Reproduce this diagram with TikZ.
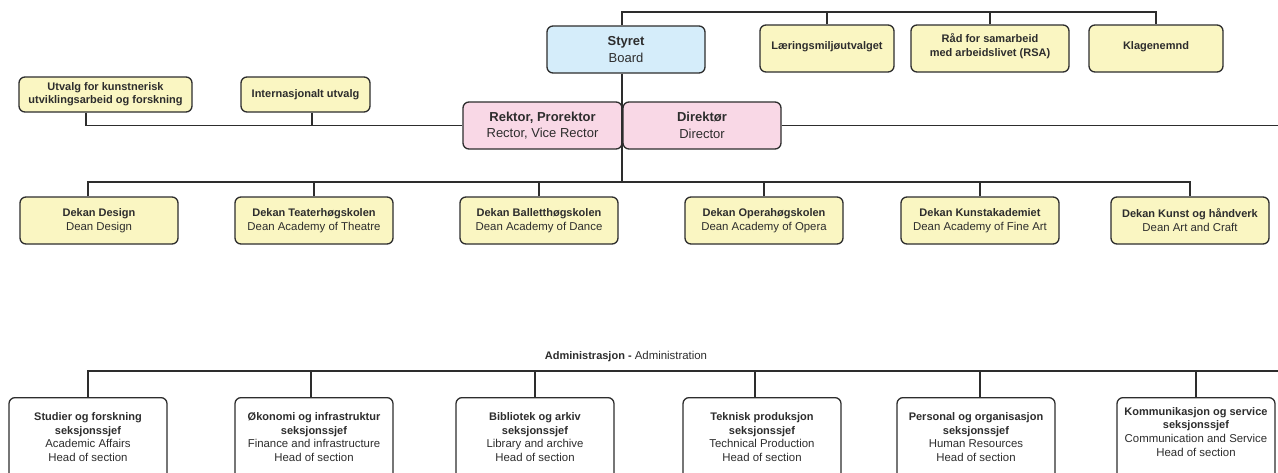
\documentclass[tikz,border=0pt]{standalone}
\usepackage{fontspec}
\setmainfont{Liberation Sans}
\definecolor{boxyellow}{RGB}{250,246,194}
\definecolor{boxblue}{RGB}{213,237,250}
\definecolor{boxpink}{RGB}{249,216,230}
\definecolor{ink}{RGB}{45,45,45}
\newcommand{\hb}[1]{{\fontsize{11}{14}\selectfont\bfseries #1}}
\newcommand{\lowstrut}[1]{\rule[-#1]{0pt}{#1}}
\tikzset{
  box/.style={draw=ink, line width=1.3pt, rounded corners=6pt, align=center, text=ink, inner sep=1pt},
  smallbox/.style={box, fill=boxyellow, minimum height=47pt, font=\fontsize{11}{14}\selectfont\bfseries},
  combox/.style={box, fill=boxyellow, minimum height=35pt, font=\fontsize{11}{13}\selectfont\bfseries},
  leadbox/.style={box, minimum width=158pt, minimum height=47pt, font=\fontsize{13}{16.5}\selectfont},
  deanbox/.style={box, fill=boxyellow, minimum width=158pt, minimum height=47pt, font=\fontsize{11.4}{14}\selectfont},
  secbox/.style={box, fill=white, minimum width=158pt, minimum height=86pt, anchor=north, font=\fontsize{11.4}{13.7}\selectfont},
  adminlabel/.style={text=ink, inner sep=0pt, font=\fontsize{11.4}{14}\selectfont},
  bus/.style={draw=ink, line width=1.4pt}
}
\begin{document}
\begin{tikzpicture}[x=1pt,y=-1pt]
\useasboundingbox (0,0) rectangle (1278,472);
\clip (0,0) rectangle (1278,472);
\fill[white] (0,0) rectangle (1278,472);

% coordinates for buses
\coordinate (topbus) at (622,12);
\coordinate (spine) at (622,0);
\coordinate (deanbus) at (622,182);
\coordinate (rightedge) at (1278,125.5);
\coordinate (adminend) at (1278,371);

\node[leadbox, fill=boxblue, minimum width=158pt] (styret) at (626,49.5) {{\bfseries Styret}\\Board};
\node[leadbox, fill=boxpink, minimum width=159pt] (rektor) at (542.5,125.5) {{\bfseries Rektor, Prorektor}\\Rector, Vice Rector};
\node[leadbox, fill=boxpink] (direktor) at (702,125.5) {{\bfseries Direktør}\\Director};

\draw[bus] (styret.south -| spine) -- (deanbus);

\node[smallbox, minimum width=134pt] (laer) at (827,48.5) {Læringsmiljøutvalget\lowstrut{6pt}};
\node[smallbox, minimum width=158pt] (rad) at (990,48.5) {Råd for samarbeid\\med arbeidslivet (RSA)\lowstrut{7pt}};
\node[smallbox, minimum width=134pt] (klage) at (1156,48.5) {Klagenemnd\lowstrut{6pt}};

\node[combox, minimum width=173pt] (utvalg) at (105.5,94.5) {Utvalg for kunstnerisk\\utviklingsarbeid og forskning};
\node[combox, minimum width=129pt] (intl) at (305.5,94.5) {Internasjonalt utvalg};

\node[deanbox] (design) at (99,220.5) {\hb{Dekan Design}\\Dean Design};
\node[deanbox] (theatre) at (314,220.5) {\hb{Dekan Teaterhøgskolen}\\Dean Academy of Theatre};
\node[deanbox] (dance) at (539,220.5) {\hb{Dekan Balletthøgskolen}\\Dean Academy of Dance};
\node[deanbox] (opera) at (764,220.5) {\hb{Dekan Operahøgskolen}\\Dean Academy of Opera};
\node[deanbox] (fineart) at (980,220.5) {\hb{Dekan Kunstakademiet}\\Dean Academy of Fine Art};
\node[deanbox] (craft) at (1190,220.5) {\hb{Dekan Kunst og håndverk}\\Dean Art and Craft};

\node[adminlabel] (admlabel) at (626,357) {\textbf{\fontsize{11}{14}\selectfont Administrasjon -} Administration};

\node[secbox] (sec1) at (88,397) {\hb{Studier og forskning}\\\hb{seksjonssjef}\\Academic Affairs\\Head of section\lowstrut{7.4pt}};
\node[secbox] (sec2) at (314,397) {\hb{Økonomi og infrastruktur}\\\hb{seksjonssjef}\\Finance and infrastructure\\Head of section\lowstrut{7.4pt}};
\node[secbox] (sec3) at (535,397) {\hb{Bibliotek og arkiv}\\\hb{seksjonssjef}\\Library and archive\\Head of section\lowstrut{7.4pt}};
\node[secbox] (sec4) at (762,397) {\hb{Teknisk produksjon}\\\hb{seksjonssjef}\\Technical Production\\Head of section\lowstrut{7.4pt}};
\node[secbox] (sec5) at (976,397) {\hb{Personal og organisasjon}\\\hb{seksjonssjef}\\Human Resources\\Head of section\lowstrut{7.4pt}};
\node[secbox] (sec6) at (1196,397) {\hb{Kommunikasjon og service}\\\hb{seksjonssjef}\\Communication and Service\\Head of section\lowstrut{18pt}};

% top bus
\draw[bus] (styret.north -| topbus) -- (topbus) -| (klage.north);
\draw[bus] (laer.north) -- (laer.north |- topbus);
\draw[bus] (rad.north) -- (rad.north |- topbus);

% committee bus
\draw[bus] ([xshift=-19.5pt]utvalg.south) |- (rektor.west);
\draw[bus] ([xshift=6.5pt]intl.south) -- ([xshift=6.5pt]intl.south |- rektor.west);
\draw[bus] (direktor.east) -- (rightedge);

% dean bus
\draw[bus] ([xshift=-11pt]design.north) |- (deanbus) -| (craft.north);
\draw[bus] (theatre.north) -- (theatre.north |- deanbus);
\draw[bus] (dance.north) -- (dance.north |- deanbus);
\draw[bus] (opera.north) -- (opera.north |- deanbus);
\draw[bus] (fineart.north) -- (fineart.north |- deanbus);

% admin bus
\draw[bus] (sec1.north) |- (adminend);
\draw[bus] ([xshift=-3pt]sec2.north) -- ([xshift=-3pt]sec2.north |- adminend);
\draw[bus] (sec3.north) -- (sec3.north |- adminend);
\draw[bus] ([xshift=-7pt]sec4.north) -- ([xshift=-7pt]sec4.north |- adminend);
\draw[bus] ([xshift=4pt]sec5.north) -- ([xshift=4pt]sec5.north |- adminend);
\draw[bus] (sec6.north) -- (sec6.north |- adminend);
\end{tikzpicture}
\end{document}
